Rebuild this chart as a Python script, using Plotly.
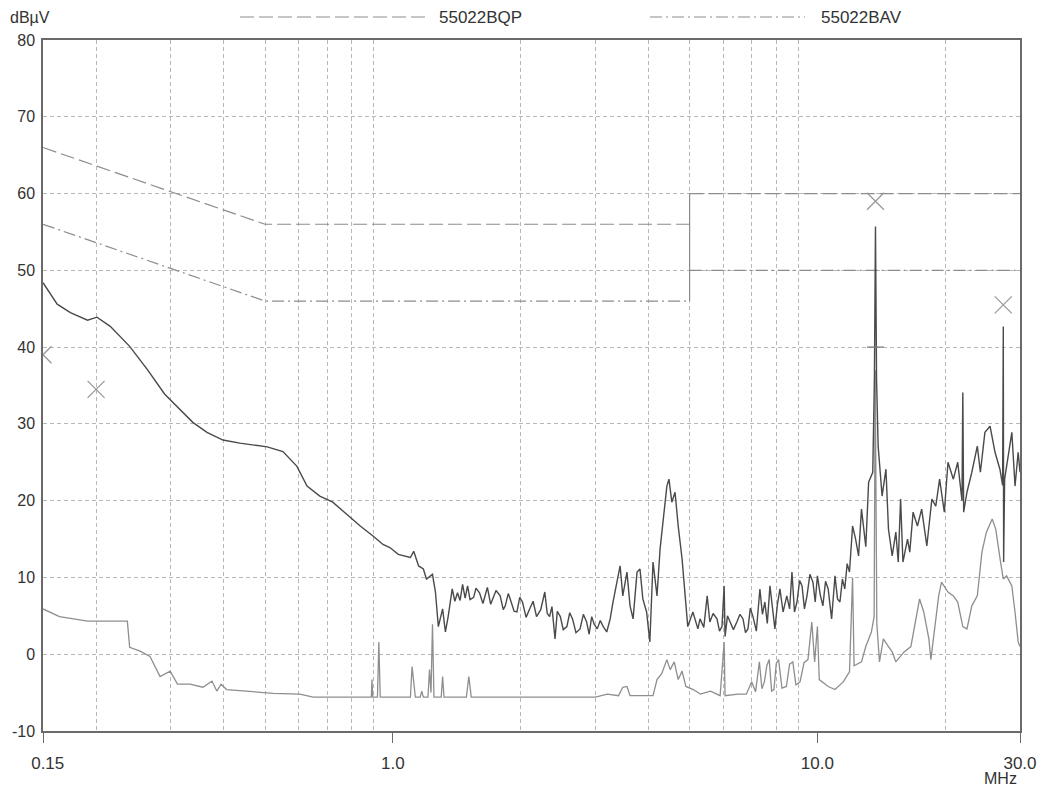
import plotly.graph_objects as go

# ---------------- data ----------------
peak_freq = [0.150, 0.162, 0.174, 0.191, 0.201, 0.216, 0.240, 0.264, 0.290, 0.316, 0.338, 0.365,
             0.398, 0.436, 0.506, 0.551, 0.594, 0.628, 0.673, 0.722, 0.780, 0.838, 0.898, 0.948,
             0.984, 1.03, 1.10, 1.12, 1.15, 1.18, 1.20, 1.24, 1.26, 1.28, 1.31, 1.33, 1.35,
             1.38, 1.40, 1.42, 1.44, 1.46, 1.48, 1.50, 1.52, 1.55, 1.57, 1.60, 1.63, 1.67, 1.70,
             1.72, 1.75, 1.79, 1.82, 1.84, 1.87, 1.89, 1.93, 1.96, 1.99, 2.02, 2.06, 2.10, 2.14,
             2.18, 2.23, 2.28, 2.31, 2.34, 2.37, 2.41, 2.44, 2.48, 2.52, 2.57, 2.61, 2.65, 2.70,
             2.76, 2.81, 2.86, 2.90, 2.94, 2.98, 3.03, 3.08, 3.13, 3.19, 3.25, 3.30, 3.43,
             3.48, 3.56, 3.62, 3.68, 3.76, 3.82, 3.88, 3.96, 4.03, 4.10, 4.19, 4.26, 4.33, 4.42,
             4.47, 4.54, 4.62, 4.70, 4.80, 4.88, 4.95, 5.09, 5.23,
             5.29, 5.40, 5.50, 5.58, 5.68, 5.80, 5.88, 5.96, 6.03, 6.06, 6.14, 6.22, 6.34, 6.46,
             6.57, 6.68, 6.77, 6.86, 6.95, 7.05, 7.18, 7.32, 7.42, 7.52, 7.62, 7.73, 7.83, 7.94,
             8.05, 8.16, 8.30, 8.47, 8.60, 8.71, 8.83, 8.95, 9.08, 9.20, 9.32, 9.45, 9.60, 9.76,
             9.88, 10.0, 10.15, 10.3, 10.45, 10.6, 10.8, 11.0, 11.15, 11.3, 11.45, 11.6, 11.75,
             11.9, 12.1, 12.3, 12.5, 12.7, 13.0, 13.2, 13.5, 13.62, 13.70, 13.78, 13.9, 14.2,
             14.5, 14.7, 15.0, 15.3, 15.5, 15.7, 15.9, 16.3, 16.5, 16.8, 17.2, 17.6, 18.1, 18.6,
             19.0, 19.4, 19.9, 20.3, 20.9, 21.4, 21.9, 22.0, 22.1, 22.5, 23.1, 23.8, 24.2, 24.8,
             25.5, 26.2, 26.9, 27.3, 27.4, 27.45, 27.6, 28.0, 28.7, 29.2, 29.7, 30.0]
peak_dbuv = [48.4, 45.6, 44.5, 43.5, 43.9, 42.7, 40.1, 37.1, 33.9, 31.9, 30.2, 28.9,
             27.9, 27.5, 27.0, 26.4, 24.5, 21.9, 20.6, 19.8, 18.2, 16.7, 15.4, 14.3,
             13.9, 13.0, 12.6, 13.4, 11.5, 11.1, 9.8, 10.4, 8.1, 3.6, 5.9, 2.9, 4.9,
             8.5, 6.9, 8.0, 7.0, 9.1, 7.3, 8.9, 7.1, 7.4, 8.6, 8.0, 6.6, 8.7, 6.5,
             7.2, 8.3, 7.6, 5.8, 6.3, 7.9, 7.2, 5.6, 5.5, 7.4, 6.8, 4.8, 5.9, 6.9,
             4.9, 5.8, 8.1, 5.3, 4.9, 6.2, 2.0, 5.6, 4.9, 3.2, 3.6, 5.4, 4.6, 2.8,
             3.3, 5.2, 4.2, 2.6, 4.9, 3.9, 3.3, 4.4, 3.6, 2.9, 4.6, 6.8, 11.5,
             7.6, 10.7, 6.3, 4.6, 10.7, 11.1, 7.2, 5.5, 1.6, 12.0, 7.6, 13.7, 17.6, 21.9,
             22.8, 19.8, 21.1, 16.7, 12.4, 8.1, 3.6, 5.5, 3.3,
             4.6, 3.5, 7.6, 4.2, 5.3, 4.6, 3.0, 3.6, 8.9, 2.3, 5.0, 4.3, 3.2, 4.2,
             5.2, 4.6, 2.8, 3.3, 6.0, 4.9, 3.0, 8.5, 5.2, 6.8, 4.0, 8.9, 5.8, 3.3,
             6.5, 8.5, 5.5, 7.6, 5.9, 10.7, 5.5, 6.8, 9.6, 8.9, 5.9, 7.6, 10.4, 9.4,
             6.8, 10.2, 7.8, 6.3, 9.5, 8.5, 4.6, 10.2, 7.2, 6.8, 9.8, 8.5, 11.8,
             10.7, 16.7, 15.0, 12.8, 18.9, 14.0, 22.4, 23.7, 35.8, 55.7, 35.8, 27.1, 20.6,
             24.1, 16.3, 12.8, 15.9, 12.0, 20.2, 12.0, 15.0, 13.3, 18.5, 16.7, 18.9, 14.1, 20.2,
             19.3, 22.8, 18.5, 25.0, 22.8, 25.0, 20.0, 34.1, 18.5, 21.1, 23.7, 27.1, 23.7, 28.9,
             29.7, 26.3, 24.1, 22.0, 42.7, 12.0, 22.8, 25.0, 28.9, 21.9, 26.3, 23.7]

avg_freq = [0.150, 0.164, 0.177, 0.191, 0.237, 0.240, 0.254, 0.268, 0.283, 0.299, 0.311, 0.333,
            0.357, 0.375, 0.385, 0.394, 0.406, 0.453, 0.523, 0.604, 0.649, 0.752, 0.890, 0.893,
            0.897, 0.920, 0.927, 0.934, 1.10, 1.11, 1.12, 1.13, 1.16, 1.17, 1.18, 1.21, 1.22,
            1.23, 1.24, 1.25, 1.30, 1.31, 1.32, 1.49, 1.51, 1.53, 3.00, 3.20, 3.40, 3.48, 3.56,
            3.62, 4.10, 4.19, 4.30, 4.42, 4.50, 4.60, 4.70, 4.80, 4.90, 5.10, 5.30, 5.60, 5.90,
            6.03, 6.06, 6.50, 6.80, 7.00, 7.15, 7.30, 7.40, 7.50, 7.60, 7.70, 7.80, 7.90, 8.00,
            8.10, 8.25, 8.45, 8.60, 8.75, 8.90, 9.10, 9.30, 9.50,
            9.70, 9.85, 10.0, 10.1, 10.6, 11.0, 11.5, 11.9, 12.1, 12.2, 12.7, 13.0, 13.4, 13.6,
            13.68, 13.8, 14.0, 14.3, 14.7, 15.0, 15.3, 16.0, 16.6, 17.4, 17.8, 18.3, 18.5, 19.0,
            19.3, 19.6, 20.3, 20.9, 21.4, 22.0, 22.5, 23.1, 23.8, 24.4, 25.0, 25.8, 26.3, 27.0,
            27.4, 27.9, 28.7, 29.2, 29.7, 30.0]
avg_dbuv = [5.9, 4.9, 4.6, 4.3, 4.3, 0.9, 0.4, -0.3, -2.9, -2.2, -3.9, -3.9,
            -4.3, -3.5, -4.8, -3.9, -4.6, -4.8, -5.1, -5.2, -5.6, -5.6, -5.6, -3.3,
            -5.6, -5.6, 1.6, -5.6, -5.6, -1.6, -4.2, -5.6, -5.6, -4.8, -5.6, -5.6, -2.0,
            -5.0, 3.9, -5.6, -5.6, -2.9, -5.6, -5.6, -2.9, -5.6, -5.6, -5.2, -5.4, -4.3, -4.2,
            -5.4, -5.4, -3.3, -2.5, -0.7, -2.0, -1.0, -3.3, -2.2, -4.2, -4.6, -5.2, -4.8, -5.4,
            1.6, -5.4, -5.2, -5.2, -3.6, -4.9, -1.0, -4.5, -3.6, -1.5, -0.7, -4.8, -4.6, -1.2,
            -0.7, -4.4, -4.2, -1.3, -1.0, -4.0, -3.6, -1.1, -0.7,
            4.2, -1.0, 3.6, -3.3, -4.2, -4.6, -3.6, -2.3, 10.0, -1.5, -1.0, 1.0, 2.9, 4.9,
            37.0, 4.0, -1.0, 2.0, 1.0, 0.3, -1.0, 0.3, 1.0, 7.2, 5.5, 2.0, -0.7, 4.2,
            7.6, 9.4, 8.1, 7.6, 6.8, 3.6, 3.3, 6.3, 7.6, 13.3, 15.9, 17.6, 16.3, 12.0,
            9.8, 10.2, 8.9, 5.5, 1.6, 1.0]

qp_freq_a = [0.15, 0.5, 5.0]
qp_limit_a = [66, 56, 56]
qp_freq_b = [5.0, 30.0]
qp_limit_b = [60, 60]
av_freq_a = [0.15, 0.5, 5.0]
av_limit_a = [56, 46, 46]
av_freq_b = [5.0, 30.0]
av_limit_b = [50, 50]
step_freq = [5.0, 5.0]
step_level = [46, 60]

marker_freq = [0.15, 0.2, 13.7, 27.4]
marker_dbuv = [39.0, 34.5, 59.0, 45.5]
avg_marker_freq = [13.7]
avg_marker_dbuv = [40.0]

x_tick_vals = [0.15, 1.0, 10.0, 30.0]
x_tick_text = ["\u00a0\u00a00.15", "1.0", "10.0", "30.0"]
x_grid_vals = [0.2, 0.3, 0.4, 0.5, 0.6, 0.7, 0.8, 0.9, 2, 3, 4, 5, 6, 7, 8, 9, 20]
y_tick_vals = [-10, 0, 10, 20, 30, 40, 50, 60, 70, 80]
y_tick_text = ["-10", "0", "10", "20", "30", "40", "50", "60", "70", "80"]

# ---------------- figure ----------------
FONT = "Liberation Sans, Arial, sans-serif"
FSIZE = 17
LIMIT_COLOR = "#8c8c8c"
GRID_COLOR = "#b8b8b8"
TEXT_COLOR = "#333333"

fig = go.Figure()
fig.add_trace(go.Scatter(x=qp_freq_a, y=qp_limit_a, mode="lines",
                         line=dict(color=LIMIT_COLOR, width=1.2, dash="14px,5px"), hoverinfo="skip"))
fig.add_trace(go.Scatter(x=qp_freq_b, y=qp_limit_b, mode="lines",
                         line=dict(color=LIMIT_COLOR, width=1.2, dash="14px,5px"), hoverinfo="skip"))
fig.add_trace(go.Scatter(x=av_freq_a, y=av_limit_a, mode="lines",
                         line=dict(color=LIMIT_COLOR, width=1.2, dash="12px,4px,2px,4px"), hoverinfo="skip"))
fig.add_trace(go.Scatter(x=av_freq_b, y=av_limit_b, mode="lines",
                         line=dict(color=LIMIT_COLOR, width=1.2, dash="12px,4px,2px,4px"), hoverinfo="skip"))
fig.add_trace(go.Scatter(x=step_freq, y=step_level, mode="lines",
                         line=dict(color=LIMIT_COLOR, width=1.2), hoverinfo="skip"))

fig.add_trace(go.Scatter(x=avg_freq, y=avg_dbuv, mode="lines",
                         line=dict(color="#8e8e8e", width=1.3)))
fig.add_trace(go.Scatter(x=peak_freq, y=peak_dbuv, mode="lines",
                         line=dict(color="#4a4a4a", width=1.4)))

fig.add_trace(go.Scatter(x=marker_freq, y=marker_dbuv, mode="markers",
                         marker=dict(symbol="x-thin", size=17, color="#9a9a9a",
                                     line=dict(color="#9a9a9a", width=1.3))))
fig.add_trace(go.Scatter(x=avg_marker_freq, y=avg_marker_dbuv, mode="markers",
                         marker=dict(symbol="line-ew", size=12, color="#7a7a7a",
                                     line=dict(color="#7a7a7a", width=1.3))))

axis_common = dict(showline=True, mirror=True, linecolor="#6a6a6a", linewidth=1.5,
                   tickcolor="#6a6a6a", zeroline=False, automargin=False)

fig.update_xaxes(type="log", range=[-0.8239, 1.4771],
                 tickvals=x_tick_vals, ticktext=x_tick_text, ticks="outside", ticklen=10,
                 ticklabelstandoff=6,
                 tickfont=dict(family=FONT, size=FSIZE, color=TEXT_COLOR),
                 showgrid=False,
                 minor=dict(tickvals=x_grid_vals, showgrid=True, gridcolor=GRID_COLOR,
                            griddash="4px,3px", gridwidth=1, ticks=""),
                 **axis_common)
fig.update_yaxes(range=[-10, 80], tickvals=y_tick_vals, ticktext=y_tick_text, ticks="",
                 ticklabelstandoff=3,
                 tickfont=dict(family=FONT, size=16, color=TEXT_COLOR),
                 showgrid=True, gridcolor=GRID_COLOR, griddash="4px,3px", gridwidth=1,
                 **axis_common)

# the page adds an 8px body margin; positions below are in window pixels
def px(xp):
    return (xp - 43) / 977.0

def py(yp):
    return (731 - yp) / 691.0

shapes = [
    dict(type="line", xref="paper", yref="paper", x0=px(240), x1=px(425), y0=py(17), y1=py(17),
         line=dict(color=LIMIT_COLOR, width=1.2, dash="14px,5px")),
    dict(type="line", xref="paper", yref="paper", x0=px(650), x1=px(805), y0=py(17), y1=py(17),
         line=dict(color=LIMIT_COLOR, width=1.2, dash="12px,4px,2px,4px")),
]
annotations = [
    dict(text="55022BQP", xref="paper", yref="paper", x=px(437), y=py(17), xanchor="left",
         yanchor="middle", showarrow=False, font=dict(family=FONT, size=FSIZE, color=TEXT_COLOR)),
    dict(text="55022BAV", xref="paper", yref="paper", x=px(819), y=py(17), xanchor="left",
         yanchor="middle", showarrow=False, font=dict(family=FONT, size=FSIZE, color=TEXT_COLOR)),
    dict(text="dBµV", xref="paper", yref="paper", x=px(8), y=py(18), xanchor="left",
         yanchor="middle", showarrow=False, font=dict(family=FONT, size=FSIZE - 1, color=TEXT_COLOR)),
    dict(text="MHz", xref="paper", yref="paper", x=px(1000), y=py(778), xanchor="center",
         yanchor="middle", showarrow=False, font=dict(family=FONT, size=FSIZE - 1, color=TEXT_COLOR)),
]

fig.update_layout(width=1044, height=782, showlegend=False,
                  margin=dict(l=35, r=32, t=32, b=59, autoexpand=False),
                  paper_bgcolor="white", plot_bgcolor="white",
                  shapes=shapes, annotations=annotations,
                  font=dict(family=FONT, color=TEXT_COLOR))

fig.write_html("out.html")
